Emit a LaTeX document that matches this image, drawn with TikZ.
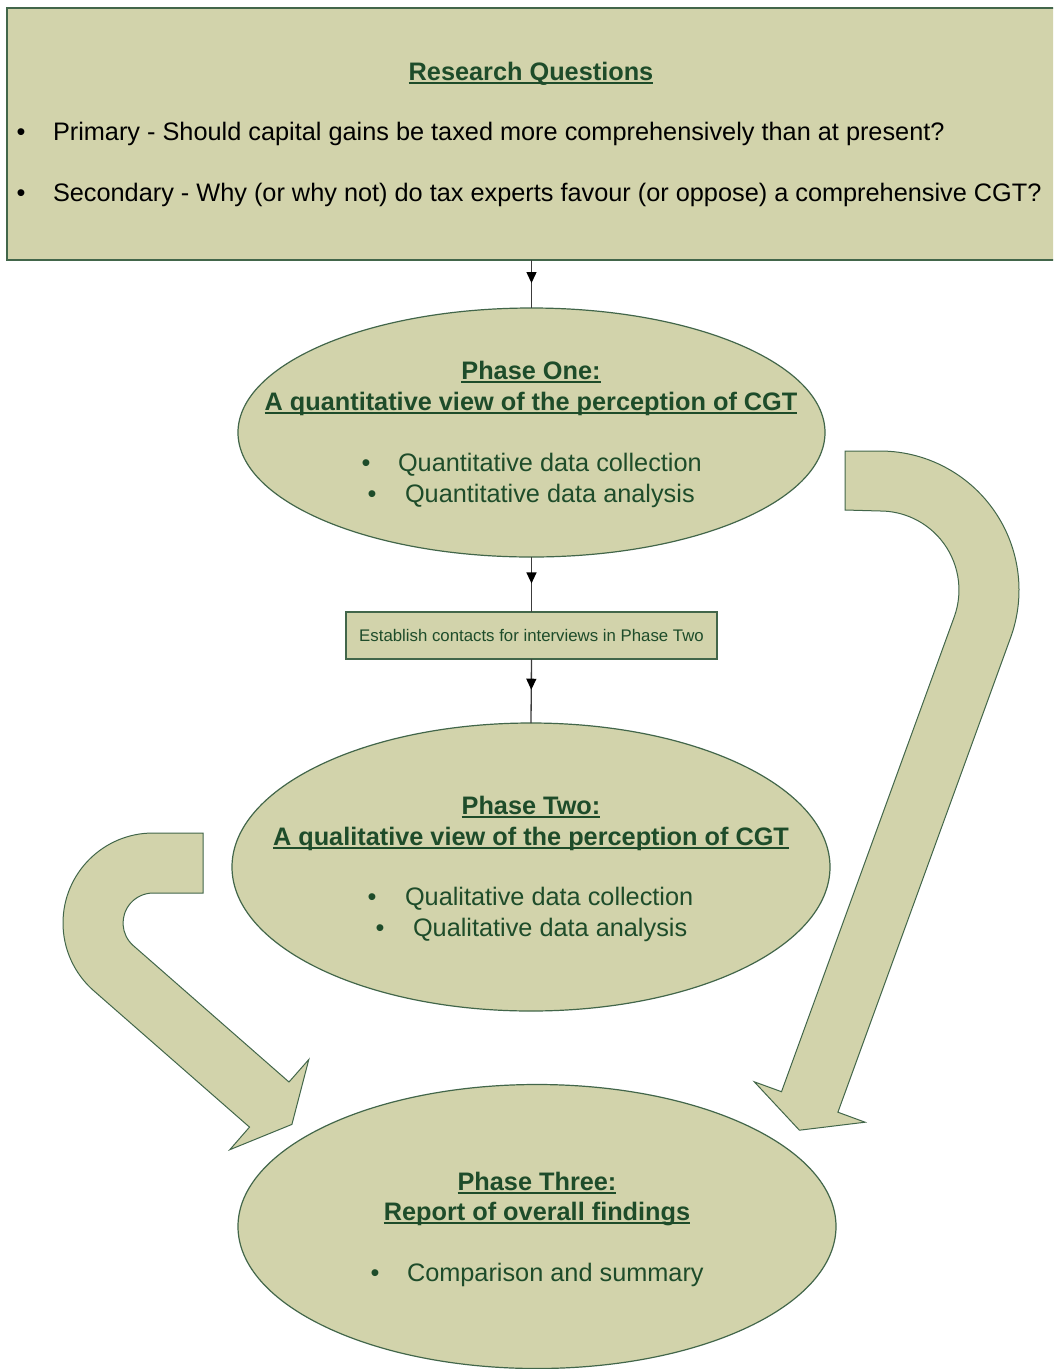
\documentclass[tikz,border=0pt]{standalone}
\usepackage{fontspec}
\setmainfont{Liberation Sans}
\usetikzlibrary{shapes.geometric,arrows.meta,decorations.markings}

\definecolor{sage}{RGB}{210,211,171}
\definecolor{rim}{RGB}{66,102,74}
\definecolor{ink}{RGB}{30,76,42}
\definecolor{wire}{RGB}{60,60,60}

% underline drawn at a fixed depth, crossing descenders
\newcommand\ulbar[1]{\setbox0\hbox{#1}\rlap{\rule[-4pt]{\wd0}{2pt}}\box0}

\begin{document}
\begin{tikzpicture}[x=1pt,y=-1pt,
  every node/.style={inner sep=0pt,outer sep=0pt},
  panel/.style={draw=rim,line width=1.2pt,fill=sage},
  oval/.style={panel,ellipse},
  head/.style={font=\fontsize{25.3}{30}\selectfont\bfseries,text=ink,anchor=base},
  item/.style={font=\fontsize{25.3}{30}\selectfont,text=ink,anchor=base west},
  dot/.style={font=\fontsize{25.3}{30}\selectfont,text=ink,anchor=base},
  link/.style={draw=wire,line width=1.3pt,postaction={decorate},
    decoration={markings,mark=at position 0.48 with {\arrow[black]{Triangle[width=10pt,length=11pt]}}}},
  bigarrow/.style={draw=rim,line width=1pt,fill=sage,line join=miter}
]
\clip (0,0) rectangle (1053,1369);
\fill[white] (0,0) rectangle (1053,1369);

% research questions panel
\node[panel,rectangle,minimum width=1053pt,minimum height=252pt,anchor=north west] (rq) at (7,8) {};
\node[head] (rqt) at (531,80) {\ulbar{Research Questions}};
\node[dot,text=black] (rb1) at (21,140) {•};
\node[item,text=black] (rq1) at (53,140) {Primary - Should capital gains be taxed more comprehensively than at present?};
\node[dot,text=black] (rb2) at (21,201) {•};
\node[item,text=black] (rq2) at (53,201) {Secondary - Why (or why not) do tax experts favour (or oppose) a comprehensive CGT?};

% curved arrows
\draw[bigarrow] (845,451) -- (880,451) arc[start angle=-90,end angle=20,radius=139]
  -- (837.9,1112.2) -- (865.1,1122.2) -- (799.4,1130.2) -- (754.3,1081.8) -- (781.5,1091.7)
  -- (954.2,617.0) arc[start angle=20,end angle=-90,radius=79] -- (845,510) -- cycle;
\draw[bigarrow] (203,833) -- (153,833) arc[start angle=-90,end angle=-228.8,radius=90]
  -- (249.5,1127.1) -- (229.8,1149.7) -- (291.9,1124.4) -- (308.8,1059.5) -- (289.0,1082.0)
  -- (133.3,945.6) arc[start angle=-228.8,end angle=-90,radius=30] -- (203,893) -- cycle;

% phases
\node[oval,minimum width=587pt,minimum height=249pt] (p1) at (531.5,432.5) {};
\node[panel,rectangle,minimum width=371pt,minimum height=47pt,
  font=\fontsize{16.8}{20}\selectfont,text=ink] (ct) at (531.5,635.5) {Establish contacts for interviews in Phase Two};
\node[oval,minimum width=598pt,minimum height=288pt] (p2) at (531,867) {};
\node[oval,minimum width=598pt,minimum height=284pt] (p3) at (537,1226.5) {};

% connectors
\draw[link] (rq.south -| p1.north) -- (p1.north);
\draw[link] (p1.south) -- (ct.north);
\draw[link] (ct.south) -- (p2.north);

% phase one text
\node[head] (t1a) at (531,379) {\ulbar{Phase One:}};
\node[head] (t1b) at (531,410) {\ulbar{A quantitative view of the perception of CGT}};
\node[dot] (d1a) at (366,471) {•};
\node[item] (i1a) at (398,471) {Quantitative data collection};
\node[dot] (d1b) at (372,502) {•};
\node[item] (i1b) at (405,502) {Quantitative data analysis};

% phase two text
\node[head] (t2a) at (531,814) {\ulbar{Phase Two:}};
\node[head] (t2b) at (531,845) {\ulbar{A qualitative view of the perception of CGT}};
\node[dot] (d2a) at (372,905) {•};
\node[item] (i2a) at (405,905) {Qualitative data collection};
\node[dot] (d2b) at (380,936) {•};
\node[item] (i2b) at (413,936) {Qualitative data analysis};

% phase three text
\node[head] (t3a) at (537,1190) {\ulbar{Phase Three:}};
\node[head] (t3b) at (537,1220) {\ulbar{Report of overall findings}};
\node[dot] (d3a) at (375,1281) {•};
\node[item] (i3a) at (407,1281) {Comparison and summary};
\end{tikzpicture}
\end{document}
